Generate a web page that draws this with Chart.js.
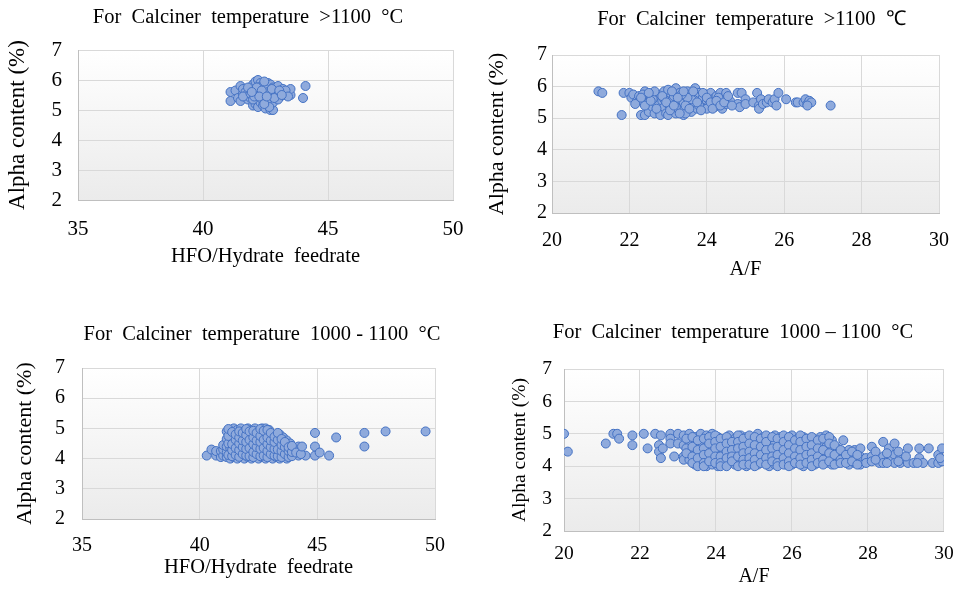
<!DOCTYPE html>
<html><head><meta charset="utf-8">
<script src="https://cdn.jsdelivr.net/npm/chart.js@4/dist/chart.umd.min.js"></script>
<style>
html,body{margin:0;padding:0;background:#fff;width:965px;height:589px;overflow:hidden;position:relative}
canvas{position:absolute}
</style></head>
<body>
<canvas id="c1"></canvas><canvas id="c2"></canvas><canvas id="c3"></canvas><canvas id="c4"></canvas>
<script>
// ---- tick labels ----
const yTicks = [2, 3, 4, 5, 6, 7];
const xTicksHfo = [35, 40, 45, 50];
const xTicksAf = [20, 22, 24, 26, 28, 30];

// ---- titles ----
const titleHigh1 = "For  Calciner  temperature  >1100  °C";
const titleHigh2 = "For  Calciner  temperature  >1100  ℃";
const titleMid1 = "For  Calciner  temperature  1000 - 1100  °C";
const titleMid2 = "For  Calciner  temperature  1000 – 1100  °C";
const yTitle = "Alpha content (%)";
const xTitleHfo = "HFO/Hydrate  feedrate";
const xTitleAf = "A/F";

// ---- series: [x, y] ----
const hfoHigh = [
[41.1,5.3],[41.1,5.6],[41.3,5.65],[41.4,5.4],[41.5,5.3],[41.5,5.8],[41.6,5.55],[41.6,5.7],[41.7,5.45],[41.7,5.6],
[41.8,5.35],[41.8,5.55],[41.9,5.4],[41.9,5.7],[42.0,5.15],[42.0,5.5],[42.0,5.85],[42.1,5.2],[42.1,5.45],[42.1,5.65],
[42.1,5.95],[42.2,5.1],[42.2,5.35],[42.2,5.6],[42.2,6.0],[42.3,5.25],[42.3,5.5],[42.3,5.75],[42.3,5.9],[42.4,5.15],
[42.4,5.4],[42.4,5.6],[42.4,5.85],[42.5,5.05],[42.5,5.3],[42.5,5.55],[42.5,5.8],[42.6,5.2],[42.6,5.45],[42.6,5.7],
[42.6,5.9],[42.7,5.0],[42.7,5.35],[42.7,5.6],[42.7,5.85],[42.8,5.0],[42.8,5.25],[42.8,5.5],[42.8,5.75],[42.9,5.4],
[42.9,5.65],[43.0,5.5],[43.0,5.8],[43.1,5.45],[43.1,5.6],[43.2,5.55],[43.3,5.5],[43.4,5.6],[43.5,5.5],[43.5,5.7],
[44.0,5.4],[44.1,5.8],[41.6,5.45],[41.9,5.55],[42.0,5.65],[42.2,5.75],[42.3,5.4],[42.5,5.7],[42.6,5.6],[42.7,5.45],
[42.9,5.55],[43.0,5.35],[43.2,5.7],[43.3,5.65],[42.1,5.55],[42.4,5.5],[42.8,5.65],[43.4,5.45],[41.8,5.75],[42.0,5.35],
[42.55,5.25],[42.65,5.1],[42.15,5.75],[42.35,5.65],[42.45,5.2],[42.05,5.45],[42.75,5.7],[42.85,5.4],[43.05,5.65],
[42.25,5.45],[41.95,5.6],[42.45,5.95],[42.55,5.45],[43.15,5.5]
];
const afHigh = [
[21.2,5.85],[21.3,5.8],[21.8,5.1],[21.85,5.8],[22.0,5.8],[22.05,5.65],[22.1,5.75],[22.2,5.55],[22.25,5.7],[22.3,5.1],
[22.3,5.55],[22.4,5.85],[22.4,5.1],[22.45,5.65],[22.5,5.2],[22.5,5.5],[22.55,5.7],[22.6,5.8],[22.6,5.35],[22.65,5.15],
[22.7,5.6],[22.7,5.45],[22.75,5.25],[22.8,5.1],[22.8,5.75],[22.85,5.55],[22.9,5.35],[22.9,5.85],[22.95,5.15],[23.0,5.65],
[23.0,5.45],[23.0,5.1],[23.05,5.8],[23.1,5.3],[23.1,5.55],[23.15,5.7],[23.2,5.95],[23.2,5.15],[23.25,5.45],[23.3,5.6],
[23.3,5.8],[23.35,5.25],[23.4,5.5],[23.4,5.1],[23.45,5.7],[23.5,5.85],[23.5,5.35],[23.55,5.55],[23.6,5.2],[23.6,5.75],
[23.65,5.45],[23.7,5.95],[23.7,5.6],[23.75,5.3],[23.8,5.8],[23.85,5.5],[23.9,5.65],[23.95,5.35],[24.0,5.75],[24.0,5.55],
[24.05,5.4],[24.1,5.8],[24.15,5.6],[24.2,5.35],[24.25,5.7],[24.3,5.5],[24.35,5.8],[24.4,5.3],[24.45,5.65],[24.5,5.8],
[24.5,5.45],[24.6,5.55],[24.8,5.8],[24.8,5.45],[24.85,5.35],[24.9,5.8],[25.0,5.6],[25.0,5.45],[25.2,5.5],[25.3,5.8],
[25.35,5.4],[25.35,5.3],[25.4,5.6],[25.45,5.45],[25.55,5.5],[25.6,5.6],[25.7,5.5],[25.75,5.6],[25.8,5.4],[25.85,5.8],
[26.05,5.6],[26.3,5.5],[26.35,5.5],[26.5,5.5],[26.55,5.6],[26.6,5.45],[26.65,5.55],[26.7,5.5],[26.6,5.4],[27.2,5.4],
[23.0,5.9],[23.2,5.35],[23.45,5.15],[23.6,5.6],[23.8,5.4],[24.0,5.3],[23.5,5.65],[22.9,5.6],[24.3,5.65],[24.2,5.45],
[22.6,5.6],[23.35,5.75],[22.15,5.45],[22.35,5.75],[22.4,5.4],[22.55,5.55],[22.65,5.85],[22.7,5.3],[22.85,5.7],
[22.95,5.5],[23.05,5.25],[23.1,5.85],[23.15,5.4],[23.25,5.65],[23.3,5.15],[23.4,5.85],[23.45,5.4],[23.55,5.3],
[23.65,5.85],[23.75,5.5],[23.85,5.25],[23.9,5.8],[24.0,5.65],[24.1,5.5],[24.15,5.3],[24.25,5.55],[24.35,5.4],
[24.45,5.5],[24.55,5.7],[24.65,5.4],[22.5,5.8],[22.3,5.65]
];
const hfoMid = [
[40.3,4.1],[40.5,4.3],[40.7,4.1],[40.7,4.25],[40.9,4.05],[40.9,4.25],[41.0,4.1],[41.0,4.3],[41.0,4.45],
[41.15,4.05],[41.15,4.2],[41.15,4.4],[41.15,4.65],[41.15,4.9],
[41.3,4.0],[41.3,4.15],[41.3,4.35],[41.3,4.6],[41.3,4.8],[41.3,4.95],
[41.45,4.05],[41.45,4.25],[41.45,4.5],[41.45,4.7],[41.45,5.0],
[41.6,4.0],[41.6,4.2],[41.6,4.4],[41.6,4.6],[41.6,4.85],[41.6,4.95],
[41.75,4.1],[41.75,4.3],[41.75,4.55],[41.75,4.75],[41.75,5.0],
[41.9,4.0],[41.9,4.2],[41.9,4.45],[41.9,4.65],[41.9,4.9],
[42.05,4.05],[42.05,4.25],[42.05,4.5],[42.05,4.8],[42.05,5.0],
[42.2,4.0],[42.2,4.15],[42.2,4.4],[42.2,4.6],[42.2,4.85],[42.2,4.95],
[42.35,4.1],[42.35,4.3],[42.35,4.55],[42.35,4.75],[42.35,5.0],
[42.5,4.0],[42.5,4.2],[42.5,4.45],[42.5,4.65],[42.5,4.9],
[42.65,4.05],[42.65,4.25],[42.65,4.5],[42.65,4.8],[42.65,5.0],
[42.8,4.0],[42.8,4.15],[42.8,4.4],[42.8,4.6],[42.8,4.85],[42.8,5.0],
[42.95,4.1],[42.95,4.3],[42.95,4.55],[42.95,4.7],[42.95,4.95],
[43.1,4.0],[43.1,4.2],[43.1,4.45],[43.1,4.65],[43.1,4.8],
[43.25,4.05],[43.25,4.25],[43.25,4.5],[43.25,4.75],
[43.4,4.0],[43.4,4.2],[43.4,4.4],[43.4,4.6],[43.4,4.8],
[43.55,4.1],[43.55,4.3],[43.55,4.5],[43.55,4.7],
[43.7,4.0],[43.7,4.2],[43.7,4.45],[43.7,4.6],
[43.85,4.1],[43.85,4.3],[43.85,4.5],
[44.0,4.15],[44.0,4.35],[44.2,4.1],[44.2,4.25],[44.2,4.4],
[44.5,4.1],[44.9,4.1],[44.9,4.4],[44.9,4.85],[45.1,4.2],[45.5,4.1],[45.8,4.7],[47.0,4.4],[47.0,4.85],[47.9,4.9],[49.6,4.9],
[41.22,4.12],[41.22,4.5],[41.22,4.75],[41.22,4.98],[41.38,4.08],[41.38,4.28],[41.38,4.48],[41.38,4.88],
[41.53,4.12],[41.53,4.35],[41.53,4.62],[41.53,4.8],[41.68,4.06],[41.68,4.28],[41.68,4.5],[41.68,4.7],[41.68,4.9],
[41.83,4.15],[41.83,4.38],[41.83,4.6],[41.83,4.85],[41.98,4.1],[41.98,4.32],[41.98,4.55],[41.98,4.78],[41.98,4.98],
[42.12,4.08],[42.12,4.35],[42.12,4.62],[42.12,4.9],[42.28,4.05],[42.28,4.22],[42.28,4.48],[42.28,4.7],[42.28,4.92],
[42.42,4.15],[42.42,4.38],[42.42,4.6],[42.42,4.85],[42.58,4.08],[42.58,4.32],[42.58,4.55],[42.58,4.75],[42.58,4.98],
[42.72,4.1],[42.72,4.35],[42.72,4.62],[42.72,4.92],[42.88,4.05],[42.88,4.25],[42.88,4.48],[42.88,4.7],[42.88,4.95],
[43.02,4.15],[43.02,4.38],[43.02,4.6],[43.02,4.85],[43.18,4.1],[43.18,4.32],[43.18,4.55],[43.18,4.72],
[43.32,4.08],[43.32,4.3],[43.32,4.62],[43.32,4.85],[43.48,4.05],[43.48,4.25],[43.48,4.45],[43.48,4.65],
[43.62,4.15],[43.62,4.38],[43.62,4.55],[43.78,4.05],[43.78,4.25],[43.78,4.38],
[43.92,4.08],[43.92,4.22],[43.92,4.42],[44.1,4.2],[44.3,4.15],[44.35,4.4]
];
const afMid = [
[20.0,5.0],[20.1,4.45],[21.1,4.7],[21.3,5.0],[21.4,5.0],[21.45,4.85],[21.8,4.95],[21.8,4.65],[22.1,5.0],[22.2,4.55],
[22.4,5.0],[22.5,4.65],[22.5,4.45],[22.55,4.25],[22.55,4.95],[22.6,4.55],[22.8,5.0],[22.8,4.85],[22.8,4.7],[22.9,4.3],
[23.0,5.0],[23.0,4.7],
[23.15,4.95],[23.15,4.65],[23.15,4.3],[23.15,4.2],
[23.3,5.0],[23.3,4.75],[23.3,4.45],[23.3,4.2],
[23.45,4.9],[23.45,4.6],[23.45,4.35],[23.45,4.05],
[23.6,5.0],[23.6,4.7],[23.6,4.45],[23.6,4.2],
[23.75,4.95],[23.75,4.6],[23.75,4.3],[23.75,4.0],[23.75,4.15],
[23.9,5.0],[23.9,4.8],[23.9,4.5],[23.9,4.25],[23.9,4.05],
[24.05,4.9],[24.05,4.65],[24.05,4.4],[24.05,4.15],[24.05,4.0],
[24.2,4.75],[24.2,4.5],[24.2,4.2],[24.2,4.05],
[24.35,4.95],[24.35,4.6],[24.35,4.35],[24.35,4.1],
[24.5,4.85],[24.5,4.65],[24.5,4.4],[24.5,4.2],[24.5,4.05],
[24.65,4.95],[24.65,4.7],[24.65,4.5],[24.65,4.25],[24.65,4.1],
[24.8,4.9],[24.8,4.6],[24.8,4.35],[24.8,4.15],[24.8,4.0],
[24.95,4.8],[24.95,4.55],[24.95,4.3],[24.95,4.1],
[25.1,5.0],[25.1,4.75],[25.1,4.5],[25.1,4.25],[25.1,4.05],
[25.25,4.9],[25.25,4.65],[25.25,4.4],[25.25,4.15],
[25.4,4.85],[25.4,4.6],[25.4,4.35],[25.4,4.1],[25.4,4.0],
[25.55,4.95],[25.55,4.7],[25.55,4.45],[25.55,4.2],[25.55,4.05],
[25.7,4.9],[25.7,4.65],[25.7,4.4],[25.7,4.15],
[25.85,4.8],[25.85,4.55],[25.85,4.3],[25.85,4.05],
[26.0,4.95],[26.0,4.7],[26.0,4.45],[26.0,4.2],[26.0,4.05],
[26.15,4.85],[26.15,4.6],[26.15,4.35],[26.15,4.1],
[26.3,4.9],[26.3,4.65],[26.3,4.4],[26.3,4.2],[26.3,4.0],
[26.45,4.8],[26.45,4.55],[26.45,4.3],[26.45,4.1],
[26.6,4.7],[26.6,4.45],[26.6,4.25],[26.6,4.05],
[26.75,4.9],[26.75,4.65],[26.75,4.4],[26.75,4.15],
[26.9,4.95],[26.9,4.6],[26.9,4.3],[26.9,4.1],
[27.05,4.8],[27.05,4.5],[27.05,4.25],[27.05,4.05],
[27.2,4.55],[27.2,4.3],[27.2,4.1],
[27.35,4.8],[27.35,4.45],[27.35,4.2],
[27.5,4.5],[27.5,4.25],[27.5,4.05],
[27.65,4.5],[27.65,4.2],[27.65,4.1],
[27.8,4.55],[27.8,4.3],[27.8,4.05],
[27.95,4.25],[27.95,4.1],
[28.1,4.6],[28.1,4.3],[28.1,4.15],
[28.3,4.25],[28.3,4.1],
[28.4,4.75],[28.4,4.3],[28.4,4.1],
[28.55,4.55],[28.55,4.2],
[28.7,4.7],[28.7,4.35],[28.7,4.1],
[28.85,4.25],[28.85,4.1],
[29.05,4.55],[29.05,4.1],[29.2,4.1],[29.35,4.55],[29.35,4.25],[29.45,4.1],[29.6,4.55],[29.7,4.1],
[29.85,4.35],[29.85,4.1],[29.95,4.55],[29.95,4.15],
[23.22,4.85],[23.22,4.55],[23.22,4.4],[23.38,4.9],[23.38,4.6],[23.38,4.3],[23.38,4.1],
[23.52,4.8],[23.52,4.5],[23.52,4.25],[23.52,4.0],[23.68,4.85],[23.68,4.55],[23.68,4.35],[23.68,4.1],[23.68,4.0],
[23.82,4.9],[23.82,4.7],[23.82,4.4],[23.82,4.15],[23.98,4.95],[23.98,4.75],[23.98,4.55],[23.98,4.3],[23.98,4.1],
[24.12,4.85],[24.12,4.6],[24.12,4.3],[24.12,4.1],[24.12,4.0],[24.28,4.9],[24.28,4.7],[24.28,4.45],[24.28,4.25],[24.28,4.0],
[24.42,4.75],[24.42,4.5],[24.42,4.3],[24.42,4.15],[24.58,4.95],[24.58,4.75],[24.58,4.55],[24.58,4.3],[24.58,4.0],
[24.72,4.85],[24.72,4.6],[24.72,4.4],[24.72,4.2],[24.72,4.05],[24.88,4.95],[24.88,4.7],[24.88,4.45],[24.88,4.25],[24.88,4.05],
[25.02,4.9],[25.02,4.65],[25.02,4.4],[25.02,4.2],[25.02,4.0],[25.18,4.85],[25.18,4.6],[25.18,4.35],[25.18,4.1],
[25.32,4.95],[25.32,4.75],[25.32,4.5],[25.32,4.25],[25.32,4.05],[25.48,4.9],[25.48,4.55],[25.48,4.3],[25.48,4.15],
[25.62,4.85],[25.62,4.6],[25.62,4.35],[25.62,4.1],[25.62,4.0],[25.78,4.95],[25.78,4.75],[25.78,4.5],[25.78,4.25],[25.78,4.05],
[25.92,4.9],[25.92,4.65],[25.92,4.4],[25.92,4.15],[25.92,4.0],[26.08,4.8],[26.08,4.55],[26.08,4.3],[26.08,4.1],
[26.22,4.95],[26.22,4.75],[26.22,4.5],[26.22,4.25],[26.22,4.05],[26.38,4.85],[26.38,4.6],[26.38,4.35],[26.38,4.1],
[26.52,4.9],[26.52,4.65],[26.52,4.4],[26.52,4.2],[26.52,4.0],[26.68,4.8],[26.68,4.55],[26.68,4.3],[26.68,4.1],
[26.82,4.85],[26.82,4.5],[26.82,4.2],[26.82,4.05],[26.98,4.9],[26.98,4.7],[26.98,4.4],[26.98,4.15],
[27.12,4.65],[27.12,4.35],[27.12,4.05],[27.28,4.5],[27.28,4.2],[27.28,4.1],[27.42,4.35],[27.42,4.1],
[27.58,4.45],[27.58,4.15],[27.72,4.35],[27.72,4.05],[28.2,4.45],[28.2,4.2],[28.5,4.1],[28.5,4.4],
[28.8,4.45],[28.8,4.15],[29.0,4.3],[29.3,4.1],[29.9,4.25]
];

const SERIF = "'Liberation Serif', 'Times New Roman', serif";

const bgPlugin = {
  id: 'plotBg',
  beforeDraw(chart) {
    const a = chart.chartArea, ctx = chart.ctx;
    const g = ctx.createLinearGradient(0, a.top, 0, a.bottom);
    g.addColorStop(0, '#FFFFFF');
    g.addColorStop(1, '#EBEBEB');
    ctx.save(); ctx.fillStyle = g;
    ctx.fillRect(a.left, a.top, a.right - a.left, a.bottom - a.top);
    ctx.restore();
  }
};

function build(id, pts, o) {
  const cv = document.getElementById(id);
  cv.style.left = o.L + 'px'; cv.style.top = o.T + 'px';
  cv.width = o.W; cv.height = o.H;
  cv.style.width = o.W + 'px'; cv.style.height = o.H + 'px';
  let padL = 2 * (o.titleCx - o.L) - (o.plotR - o.L);
  padL = Math.min(padL, o.plotL - o.L);
  const padR = o.L + o.W - o.plotR;
  const yWidth = o.plotL - o.L - padL;
  const tLH = o.titleSize * 1.2;
  const tPadTop = o.titleCy - o.T - tLH / 2;
  const tPadBot = o.plotT - o.T - tPadTop - tLH;
  const xHeight = o.T + o.H - o.plotB;
  const xLH = o.axisSize * 1.2;
  const xTitlePadBot = (o.T + o.H) - o.xTitleCy - xLH / 2;
  const yLH = o.yAxisSize * 1.2;
  const yTitlePadTop = o.yTitleCx - (o.L + padL) - yLH / 2;
  const xTickPad = o.xTickCy - o.plotB - o.tickSize * 0.55;
  const yTickPad = -(o.yTickGap + o.tickSize * 0.5);

  new Chart(cv, {
    type: 'scatter',
    data: { datasets: [{
      data: pts.map(p => ({ x: p[0], y: p[1] })),
      backgroundColor: '#8FAADC', borderColor: '#4472C4', borderWidth: 1,
      pointRadius: 4.5, pointHoverRadius: 4.5
    }]},
    plugins: [bgPlugin],
    options: {
      responsive: false, animation: false, devicePixelRatio: 1,
      layout: { padding: { left: padL, right: padR, top: 0, bottom: 0 } },
      plugins: {
        legend: { display: false }, tooltip: { enabled: false },
        title: { display: true, text: o.title, color: '#000',
          font: { family: SERIF, size: o.titleSize, weight: 'normal' },
          padding: { top: tPadTop, bottom: tPadBot } }
      },
      scales: {
        x: {
          type: 'linear', min: o.xTicks[0], max: o.xTicks[o.xTicks.length - 1],
          afterBuildTicks: s => { s.ticks = o.xTicks.map(v => ({ value: v })); },
          afterFit: s => { s.height = xHeight; },
          ticks: { color: '#000', font: { family: SERIF, size: o.tickSize }, padding: xTickPad, maxRotation: 0 },
          grid: { color: '#D9D9D9', drawTicks: false },
          border: { color: '#BFBFBF' },
          title: { display: true, text: o.xTitle, color: '#000',
            font: { family: SERIF, size: o.axisSize }, padding: { top: 0, bottom: xTitlePadBot } }
        },
        y: {
          type: 'linear', min: yTicks[0], max: yTicks[yTicks.length - 1],
          afterBuildTicks: s => { s.ticks = yTicks.map(v => ({ value: v })); },
          afterFit: s => { s.width = yWidth; },
          ticks: { color: '#000', font: { family: SERIF, size: o.tickSize }, padding: yTickPad, mirror: true },
          grid: { color: '#D9D9D9', drawTicks: false },
          border: { color: '#BFBFBF' },
          title: { display: true, text: yTitle, color: '#000',
            font: { family: SERIF, size: o.yAxisSize }, padding: { top: yTitlePadTop, bottom: 0 } }
        }
      }
    }
  });
}

build('c1', hfoHigh, { L: 0, T: 0, W: 480, H: 290, plotL: 78, plotR: 456, plotT: 50, plotB: 200,
  titleCx: 248, titleCy: 18, xTickCy: 228, xTitleCy: 257, yTitleCx: 18, yTickGap: 16,
  title: titleHigh1, xTitle: xTitleHfo, xTicks: xTicksHfo, titleSize: 20.5, tickSize: 21, axisSize: 20.5, yAxisSize: 23 });
build('c2', afHigh, { L: 480, T: 0, W: 485, H: 290, plotL: 552, plotR: 951, plotT: 55, plotB: 213,
  titleCx: 757, titleCy: 20, xTickCy: 240, xTitleCy: 270, yTitleCx: 497, yTickGap: 5,
  title: titleHigh2, xTitle: xTitleAf, xTicks: xTicksAf, titleSize: 20.5, tickSize: 20, axisSize: 20.5, yAxisSize: 22 });
build('c3', hfoMid, { L: 0, T: 300, W: 460, H: 289, plotL: 82, plotR: 443, plotT: 368, plotB: 519,
  titleCx: 262, titleCy: 335, xTickCy: 545, xTitleCy: 568, yTitleCx: 25, yTickGap: 17,
  title: titleMid1, xTitle: xTitleHfo, xTicks: xTicksHfo, titleSize: 20.5, tickSize: 20, axisSize: 20.5, yAxisSize: 22 });
build('c4', afMid, { L: 480, T: 300, W: 485, H: 289, plotL: 564, plotR: 948, plotT: 369, plotB: 531,
  titleCx: 733, titleCy: 333, xTickCy: 553, xTitleCy: 577, yTitleCx: 520, yTickGap: 12,
  title: titleMid2, xTitle: xTitleAf, xTicks: xTicksAf, titleSize: 20.5, tickSize: 19.5, axisSize: 20, yAxisSize: 19.5 });
</script>
</body></html>
